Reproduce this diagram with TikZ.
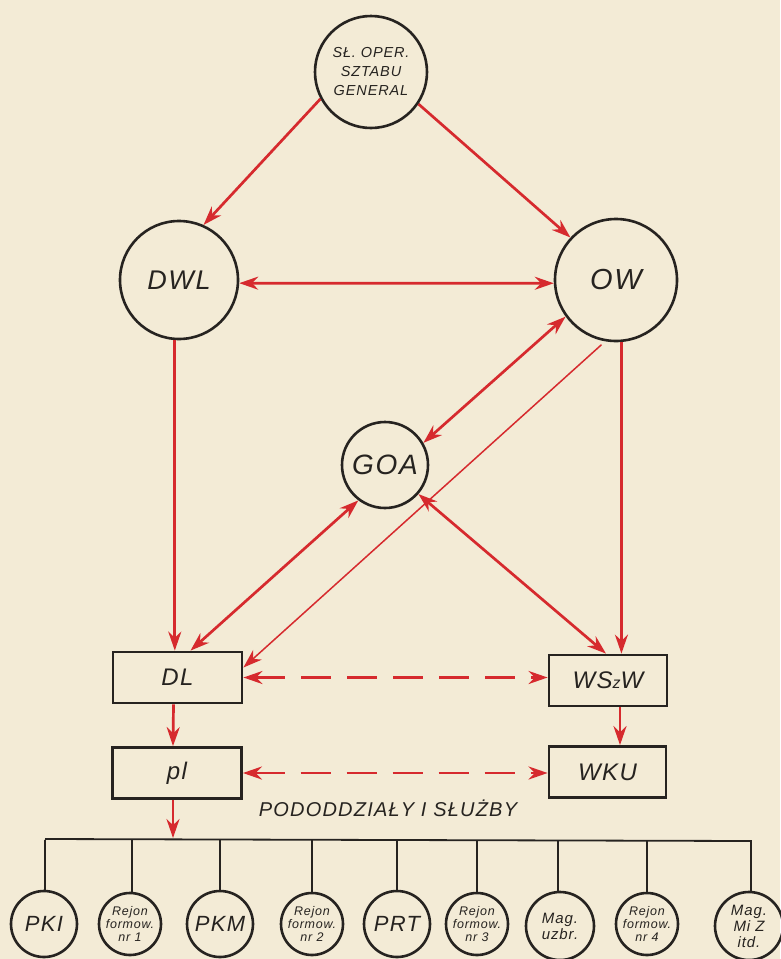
\documentclass[tikz,border=0pt]{standalone}
\usepackage{fontspec}
\setmainfont{Liberation Sans}[LetterSpace=6]
\usetikzlibrary{arrows.meta,calc}
\definecolor{paper}{HTML}{F3EBD6}
\definecolor{ink}{HTML}{262320}
\definecolor{redink}{HTML}{D62A2E}
\begin{document}
\begin{tikzpicture}[x=1pt,y=-1pt,
  font=\itshape,
  unit/.style={circle,draw=ink,line width=2.6pt,inner sep=0pt,align=center,text=ink},
  box/.style={rectangle,draw=ink,line width=2.8pt,minimum width=129pt,minimum height=51pt,inner sep=0pt,text=ink,font=\itshape\fontsize{24}{26}\selectfont},
  rl/.style={draw=redink,line width=2.7pt,-{Stealth[length=19pt,width=13pt]}},
  rld/.style={draw=redink,line width=2.7pt,{Stealth[length=19pt,width=13pt]}-{Stealth[length=19pt,width=13pt]}},
  thin/.style={draw=redink,line width=1.5pt,-{Stealth[length=19pt,width=13pt]}},
  dsh/.style={rld,dash pattern=on 30pt off 16pt},
  bus/.style={draw=ink,line width=1.8pt},
  small/.style={unit,minimum size=66pt,font=\itshape\fontsize{22}{24}\selectfont},
  rej/.style={unit,minimum size=62pt,font=\itshape\fontsize{12.5}{13}\selectfont},
  mag/.style={unit,minimum size=68pt,font=\itshape\fontsize{15}{16}\selectfont}]
\fill[paper] (0,0) rectangle (780,959);
\useasboundingbox (0,0) rectangle (780,959);

% top level
\node[unit,minimum size=112pt,font=\itshape\fontsize{14.5}{19}\selectfont] (top) at (371,72) {SŁ. OPER.\\SZTABU\\GENERAL};
\node[unit,minimum size=118pt,font=\itshape\fontsize{27}{28}\selectfont] (dwl) at (179,280) {DWL};
\node[unit,minimum size=122pt,font=\itshape\fontsize{29}{30}\selectfont] (ow) at (616,280) {OW};
\node[unit,minimum size=86pt,font=\itshape\fontsize{28}{30}\selectfont] (goa) at (385,465) {GOA};

% boxes
\node[box] (dl) at (177.5,677.5) {DL};
\node[box,minimum width=118pt] (ws) at (608,680.5) {WS{\fontsize{16}{17}\selectfont z}W};
\node[box] (pl) at (177,773) {pl};
\node[box,minimum width=117pt] (wku) at (607.5,772) {WKU};

\node[text=ink,font=\itshape\fontsize{20}{22}\selectfont] (lab) at (388,808) {PODODDZIAŁY I SŁUŻBY};

% red connectors
\draw[rl] (top.208) -- (dwl.66);
\draw[rl] (top.326) -- (ow.137);
\draw[rld] (dwl.-3) -- (ow.183);
\draw[rl] (dwl.266) -- (dwl.266 |- dl.north);
\draw[rl] (ow.275) -- (ow.275 |- ws.north);
\draw[rld] (ow.216) -- (goa.30);
\draw[thin,shorten <=5pt] (ow.260) -- ([yshift=10pt]dl.east);
\draw[rld] (goa.233) -- ([xshift=13pt]dl.north);
\draw[rld] (goa.319) -- ([xshift=-2pt]ws.north);
\draw[dsh] (dl.east) -- (dl.east -| ws.west);
\draw[rl] ([xshift=-4pt]dl.south) -- ([xshift=-4pt]pl.north);
\draw[rl] ([xshift=12pt]ws.south) -- ([xshift=12pt]ws.south |- wku.north);
\draw[dsh] (pl.east) -- (pl.east -| wku.west);

% bottom row
\node[small] (c1) at (44,924) {PKI};
\node[rej] (c2) at (130,924) {Rejon\\formow.\\nr 1};
\node[small] (c3) at (220,924) {PKM};
\node[rej] (c4) at (312,924) {Rejon\\formow.\\nr 2};
\node[small] (c5) at (397,924) {PRT};
\node[rej] (c6) at (477,924) {Rejon\\formow.\\nr 3};
\node[mag] (c7) at (560,926) {Mag.\\uzbr.};
\node[rej] (c8) at (647,924) {Rejon\\formow.\\nr 4};
\node[mag] (c9) at (749,926) {Mag.\\Mi Z\\itd.};

\coordinate (b1) at (45,839);
\coordinate (b9) at (751,841);
\coordinate (bp) at (173,838);
\draw[bus] (b1) -- (b9);
\foreach \i/\x in {1/45,2/132,3/220,4/312,5/397,6/477,7/558,8/647,9/751}{
  \draw[bus] (\x,840) -- (\x,840 |- c\i.north);
}
\draw[rl] ([xshift=-4pt]pl.south) -- (bp);
\end{tikzpicture}
\end{document}
